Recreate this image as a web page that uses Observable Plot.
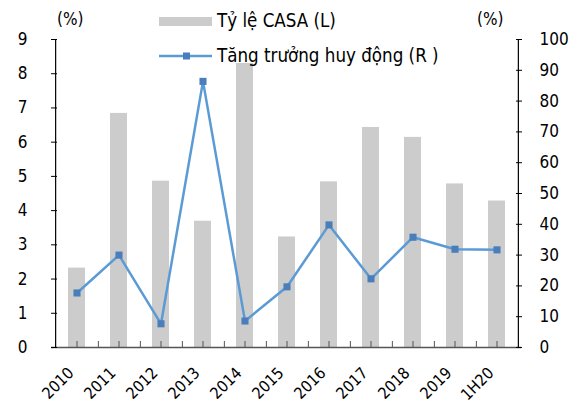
<!DOCTYPE html>
<html><head><meta charset="utf-8">
<script src="https://cdn.jsdelivr.net/npm/d3@7"></script>
<script src="https://cdn.jsdelivr.net/npm/@observablehq/plot@0.6"></script>
<style>
body{margin:0;background:#fff;}
#wrap{position:relative;width:581px;height:405px;font-family:"DejaVu Sans Condensed","DejaVu Sans",sans-serif;font-stretch:condensed;color:#000;}
.unit{position:absolute;top:9px;font-size:17px;line-height:20px;}
.leg{position:absolute;left:159px;font-size:18.6px;line-height:22px;display:flex;align-items:center;white-space:nowrap;}
.leg .sw{width:53px;height:9px;background:#cccccc;margin-right:5px;}
.leg svg{margin-right:5px;display:block;}
</style></head><body><div id="wrap"></div>
<script>
const categories = ["2010","2011","2012","2013","2014","2015","2016","2017","2018","2019","1H20"];
const casa = [2.32, 6.84, 4.86, 3.69, 8.3, 3.23, 4.84, 6.43, 6.14, 4.78, 4.28];
const growth = [17.7, 30.0, 7.7, 86.4, 8.6, 19.7, 39.8, 22.3, 35.8, 31.9, 31.7];
const leftTicks = [0,1,2,3,4,5,6,7,8,9];
const rightTicks = [0,10,20,30,40,50,60,70,80,90,100];
const seriesNames = ["Tỷ lệ CASA (L)", "Tăng trưởng huy động (R )"];
const unitLabel = "(%)";

const k = 9 / 100;
const data = categories.map((c, i) => ({cat: c, casa: casa[i], growth: growth[i] * k}));
const W = 581, H = 405, mL = 51, mR = 60, mT = 39, mB = 58;
const step = (W - mL - mR) / categories.length;
const font = '"DejaVu Sans Condensed","DejaVu Sans",sans-serif';

const chart = Plot.plot({
  width: W, height: H,
  marginLeft: mL, marginRight: mR, marginTop: mT, marginBottom: mB,
  style: {fontFamily: font, fontSize: "17px", color: "#000", background: "#fff", fontStretch: "condensed"},
  x: {type: "band", domain: categories, paddingInner: 0.6, paddingOuter: 0.3, axis: null, label: null},
  y: {domain: [0, 9], axis: null, label: null},
  marks: [
    Plot.barY(data, {x: "cat", y: "casa", fill: "#cccccc"}),
    Plot.ruleY([0], {stroke: "#555", strokeWidth: 1.5}),
    Plot.ruleX(categories, {x: d => d, y1: 0, y2: 0, insetTop: -6, stroke: "#555"}),
    Plot.ruleX(categories.slice(0, -1), {x: d => d, y1: 0, y2: 0, insetTop: -6, dx: step / 2, stroke: "#555"}),
    Plot.ruleX(categories.slice(0, 1), {x: d => d, y1: 0, y2: 9, dx: -step / 2, stroke: "#000", strokeWidth: 1.2}),
    Plot.ruleX(categories.slice(-1), {x: d => d, y1: 0, y2: 9, dx: step / 2, stroke: "#000", strokeWidth: 1.2}),
    Plot.axisY({anchor: "left", ticks: leftTicks, tickSize: -6, tickPadding: 30, tickFormat: d => d, label: null, fontSize: 17}),
    Plot.axisY({anchor: "right", ticks: rightTicks.map(t => t * k), tickSize: -6, tickPadding: 24, tickFormat: d => Math.round(d / k), label: null, fontSize: 17}),
    Plot.axisX({anchor: "bottom", tickSize: 0, tickRotate: -45, tickPadding: 18, dx: -6, dy: 5, label: null, fontSize: 16}),
    Plot.line(data, {x: "cat", y: "growth", stroke: "#5b9bd5", strokeWidth: 2.5}),
    Plot.dot(data, {x: "cat", y: "growth", symbol: "square", r: 4, fill: "#4a7ebb", stroke: "none"})
  ]
});
const wrap = document.getElementById("wrap");
wrap.appendChild(chart);

const u1 = document.createElement("div"); u1.className = "unit"; u1.style.left = "57px"; u1.textContent = unitLabel; wrap.appendChild(u1);
const u2 = document.createElement("div"); u2.className = "unit"; u2.style.left = "477px"; u2.textContent = unitLabel; wrap.appendChild(u2);

const l1 = document.createElement("div"); l1.className = "leg"; l1.style.top = "10px";
l1.innerHTML = '<div class="sw"></div><span></span>';
l1.querySelector("span").textContent = seriesNames[0];
wrap.appendChild(l1);
const l2 = document.createElement("div"); l2.className = "leg"; l2.style.top = "45px";
l2.innerHTML = '<svg width="53" height="10"><line x1="0" x2="53" y1="5" y2="5" stroke="#5b9bd5" stroke-width="2.5"/><rect x="24" y="1.5" width="7" height="7" fill="#4a7ebb"/></svg><span></span>';
l2.querySelector("span").textContent = seriesNames[1];
wrap.appendChild(l2);
</script></body></html>
